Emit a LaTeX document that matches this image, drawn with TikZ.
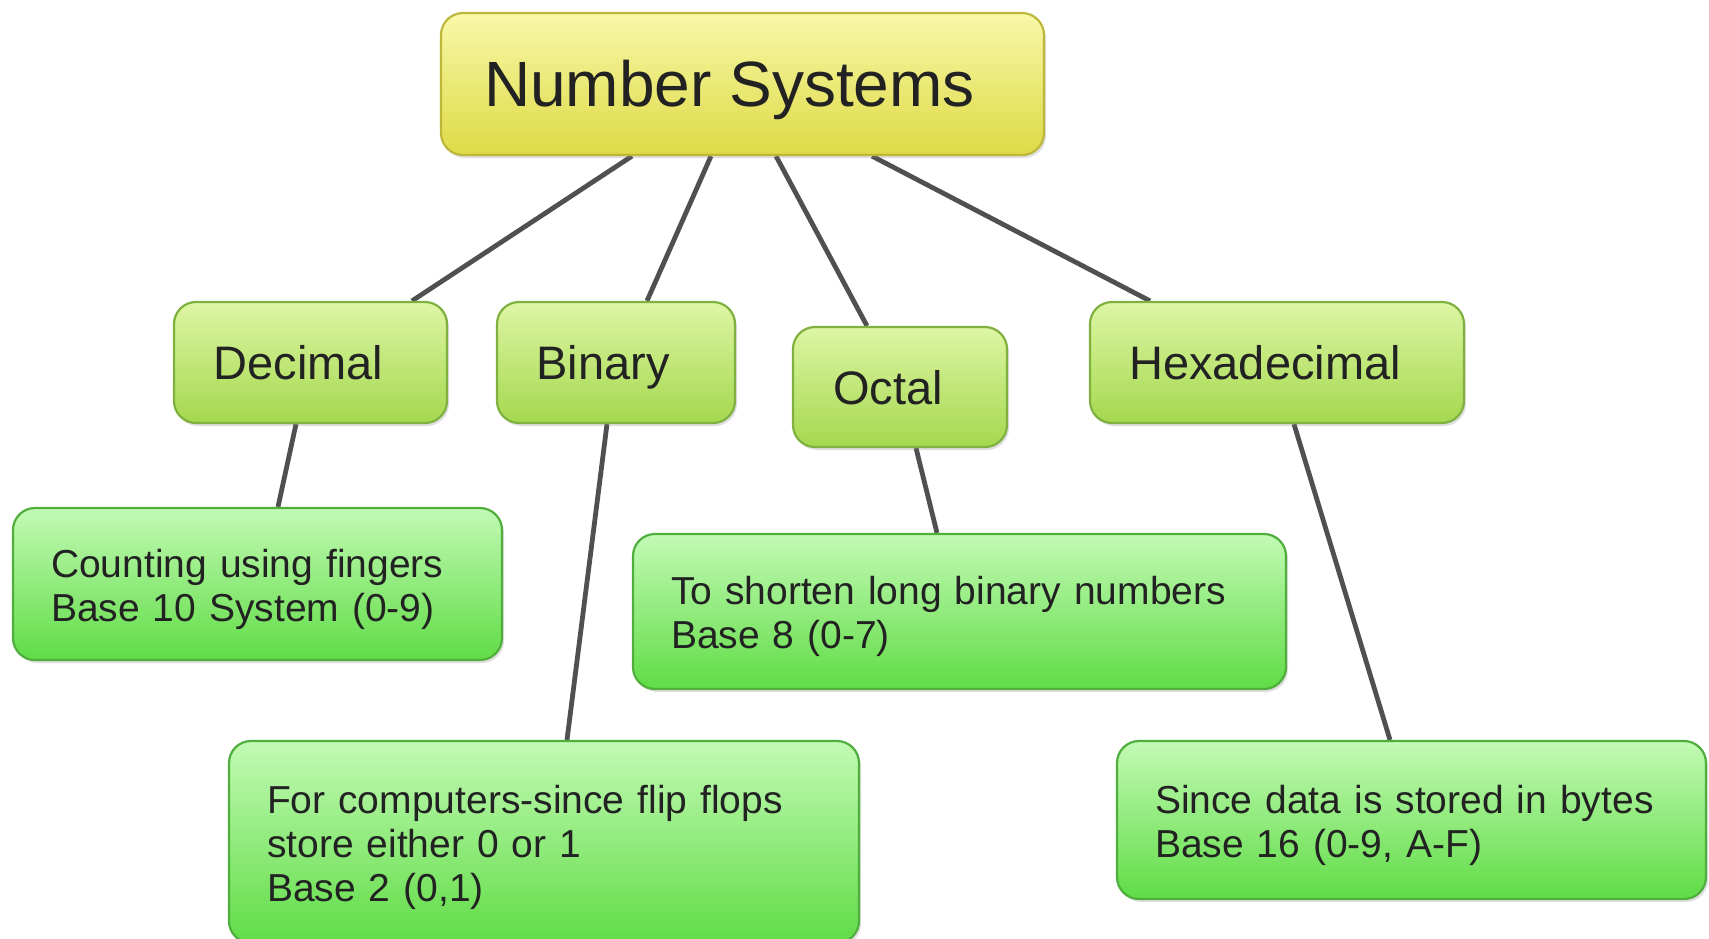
\documentclass[tikz,border=0pt]{standalone}
\usepackage{fontspec}
\setmainfont{Liberation Sans}
\usetikzlibrary{backgrounds,shadows}
\definecolor{rootTop}{HTML}{F8F8A8}
\definecolor{rootMid}{HTML}{F0EE68}
\definecolor{rootBot}{HTML}{DEDA46}
\definecolor{rootLine}{HTML}{BDB83A}
\definecolor{kidTop}{HTML}{DDF6A4}
\definecolor{kidMid}{HTML}{C4EC74}
\definecolor{kidBot}{HTML}{A4D84E}
\definecolor{kidLine}{HTML}{7FB040}
\definecolor{descTop}{HTML}{C2FAB4}
\definecolor{descMid}{HTML}{86EE6A}
\definecolor{descBot}{HTML}{60DC46}
\definecolor{descLine}{HTML}{4FAE3C}
\definecolor{wire}{HTML}{505050}
\definecolor{ink}{HTML}{222222}
\tikzset{
  box/.style={rounded corners=22pt, line width=2.2pt, inner sep=0pt,
    drop shadow={shadow xshift=2pt, shadow yshift=-3pt, opacity=0.25},
    text=ink},
  rootbox/.style={box, draw=rootLine, top color=rootTop, middle color=rootMid, bottom color=rootBot,
    font=\fontsize{64}{70}\selectfont, text height=57.6pt, text depth=13.4pt},
  kidbox/.style={box, draw=kidLine, top color=kidTop, middle color=kidMid, bottom color=kidBot,
    font=\fontsize{47}{52}\selectfont, text height=34.3pt, text depth=0pt},
  descbox/.style={box, draw=descLine, top color=descTop, middle color=descMid, bottom color=descBot,
    font=\fontsize{39}{44}\selectfont, align=left, inner xsep=38pt},
  wireline/.style={draw=wire, line width=4.8pt}
}
\newcommand{\topstrut}{\rule{0pt}{38.5pt}}
\begin{document}
\begin{tikzpicture}[x=1pt,y=-1pt]
\useasboundingbox (0,0) rectangle (1709,938);
% top node
\node[rootbox, minimum width=603pt, minimum height=142pt] (root) at (742.5,84) {Number Systems\kern26pt};
% second level
\node[kidbox, minimum width=273pt, minimum height=121pt] (dec) at (310.5,362.5) {Decimal\kern24pt};
\node[kidbox, minimum width=238pt, minimum height=121pt] (bin) at (616,362.5) {Binary\kern26pt};
\node[kidbox, minimum width=214pt, minimum height=120pt] (oct) at (900,387) {Octal\kern24pt};
\node[kidbox, minimum width=374pt, minimum height=121pt] (hex) at (1277,362.5) {Hexadecimal\kern24pt};
% descriptions
\node[descbox, text width=413pt, minimum height=152pt] (cnt) at (257.5,584)
  {\topstrut Counting using fingers\\Base 10 System (0-9)};
\node[descbox, text width=577pt, minimum height=155pt] (octd) at (959.5,611.5)
  {\topstrut To shorten long binary numbers\\Base 8 (0-7)};
\node[descbox, text width=554pt, minimum height=202pt] (bind) at (544,842)
  {\topstrut For computers-since flip flops\\store either 0 or 1\\Base 2 (0,1)};
\node[descbox, text width=513pt, minimum height=158pt] (hexd) at (1411.5,820)
  {\topstrut Since data is stored in bytes\\Base 16 (0-9, A-F)};
% connectors
\begin{pgfonlayer}{background}
\draw[wireline] ([xshift=-110.5pt]root.south) -- ([xshift=101.5pt]dec.north);
\draw[wireline] ([xshift=-31.5pt]root.south) -- ([xshift=31pt]bin.north);
\draw[wireline] ([xshift=33.5pt]root.south) -- ([xshift=-33pt]oct.north);
\draw[wireline] ([xshift=129.5pt]root.south) -- ([xshift=-127pt]hex.north);
\draw[wireline] ([xshift=-14.5pt]dec.south) -- ([xshift=20.5pt]cnt.north);
\draw[wireline] ([xshift=-9pt]bin.south) -- ([xshift=23pt]bind.north);
\draw[wireline] ([xshift=16pt]oct.south) -- ([xshift=-22.5pt]octd.north);
\draw[wireline] ([xshift=17pt]hex.south) -- ([xshift=-21.5pt]hexd.north);
\end{pgfonlayer}
\end{tikzpicture}
\end{document}
